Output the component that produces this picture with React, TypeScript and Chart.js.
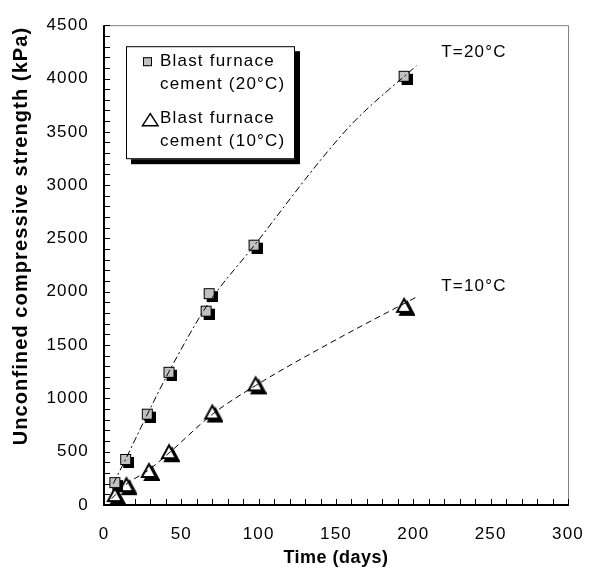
import { useEffect, useRef } from 'react';
import { Chart, registerables } from 'chart.js';

Chart.register(...registerables);

const FONT = '"Liberation Sans", Arial, Helvetica, sans-serif';

// ---- Data ----
const days20 = [7, 14, 28, 42, 66, 68, 97, 194];
const strength20 = [210, 427, 852, 1245, 1818, 1982, 2437, 4021];

const days10 = [7, 14.5, 29, 42, 70, 98, 194];
const strength10 = [93, 186, 319, 495, 867, 1131, 1868];

// trend curves
const trendDays20 = [6, 14, 28, 42, 67, 98, 142, 162, 202];
const trendStrength20 = [200, 430, 850, 1250, 1880, 2450, 3270, 3600, 4120];
const trendDays10 = [5, 14, 29, 43, 70, 98, 150, 202];
const trendStrength10 = [60, 190, 330, 500, 850, 1120, 1550, 1950];

const xTickValues = [0, 50, 100, 150, 200, 250, 300];
const yTickValues = [0, 500, 1000, 1500, 2000, 2500, 3000, 3500, 4000, 4500];

const legendLines20 = ['Blast furnace', 'cement (20°C)'];
const legendLines10 = ['Blast furnace', 'cement (10°C)'];
const curveLabels = ['T=20°C', 'T=10°C'];
const curveLabelX = [218, 218];
const curveLabelY = [4200, 2010];
const xTitle = 'Time (days)';
const yTitle = 'Unconfined compressive strength (kPa)';

const LS = '1.2px';

function makeSquareMarker() {
  const c = document.createElement('canvas');
  c.width = 17;
  c.height = 17;
  const g = c.getContext('2d')!;
  g.fillStyle = '#000';
  g.fillRect(6, 6, 11, 11);
  g.fillStyle = '#c0c0c0';
  g.fillRect(3, 3, 11, 11);
  g.strokeStyle = '#000';
  g.lineWidth = 1;
  g.strokeRect(3.5, 3.5, 10, 10);
  return c;
}

function makeTriangleMarker() {
  const c = document.createElement('canvas');
  c.width = 22;
  c.height = 22;
  const g = c.getContext('2d')!;
  const tri = (dx: number, dy: number) => {
    g.beginPath();
    g.moveTo(11 + dx, 4 + dy);
    g.lineTo(18 + dx, 17 + dy);
    g.lineTo(4 + dx, 17 + dy);
    g.closePath();
  };
  g.lineJoin = 'miter';
  tri(3, 3);
  g.fillStyle = '#000';
  g.fill();
  g.strokeStyle = '#000';
  g.lineWidth = 2;
  g.stroke();
  tri(0, 0);
  g.fillStyle = '#fff';
  g.fill();
  g.stroke();
  return c;
}

const customPlugin = {
  id: 'customDecor',
  beforeLayout(chart: any) {
    chart.ctx.letterSpacing = LS;
  },
  beforeDraw(chart: any) {
    const ctx = chart.ctx;
    ctx.letterSpacing = LS;
    ctx.save();
    ctx.fillStyle = '#fff';
    ctx.fillRect(0, 0, chart.width, chart.height);
    ctx.restore();
  },
  beforeDatasetsDraw(chart: any) {
    const ctx = chart.ctx;
    const { left, right, top, bottom } = chart.chartArea;
    const xs = chart.scales.x;
    const ys = chart.scales.y;
    ctx.save();
    ctx.strokeStyle = '#808080';
    ctx.lineWidth = 1;
    ctx.beginPath();
    ctx.moveTo(left, top + 0.5);
    ctx.lineTo(right + 0.5, top + 0.5);
    ctx.lineTo(right + 0.5, bottom);
    ctx.stroke();
    ctx.strokeStyle = '#000';
    ctx.lineWidth = 2;
    ctx.beginPath();
    ctx.moveTo(left, top);
    ctx.lineTo(left, bottom);
    ctx.lineTo(right + 1, bottom);
    ctx.stroke();
    ctx.lineWidth = 1;
    ctx.beginPath();
    for (let v = 0; v <= 4500; v += 100) {
      const y = Math.round(ys.getPixelForValue(v)) + 0.5;
      ctx.moveTo(left, y);
      ctx.lineTo(left + 6, y);
    }
    for (let v = 0; v <= 300; v += 10) {
      const x = Math.round(xs.getPixelForValue(v)) + 0.5;
      ctx.moveTo(x, bottom);
      ctx.lineTo(x, bottom - 6);
    }
    ctx.stroke();
    ctx.restore();
  },
  afterDraw(chart: any) {
    const ctx = chart.ctx;
    const { left, right, top } = chart.chartArea;
    const xs = chart.scales.x;
    const ys = chart.scales.y;
    ctx.save();
    ctx.fillStyle = '#000';
    ctx.font = `bold 18px ${FONT}`;
    ctx.letterSpacing = '0.5px';
    ctx.textAlign = 'center';
    ctx.textBaseline = 'alphabetic';
    ctx.fillText(xTitle, (left + right) / 2, 563);

    ctx.save();
    ctx.font = `bold 20px ${FONT}`;
    ctx.letterSpacing = '1.1px';
    ctx.translate(27, 236);
    ctx.rotate(-Math.PI / 2);
    ctx.fillText(yTitle, 0, 0);
    ctx.restore();

    ctx.font = `17px ${FONT}`;
    ctx.letterSpacing = LS;
    ctx.textAlign = 'left';
    for (let i = 0; i < curveLabels.length; i++) {
      ctx.fillText(curveLabels[i], xs.getPixelForValue(curveLabelX[i]), ys.getPixelForValue(curveLabelY[i]));
    }

    const bx = left + 22;
    const by = top + 21;
    const bw = 169;
    const bh = 113;
    ctx.fillStyle = '#000';
    ctx.fillRect(bx + 5, by + 5, bw, bh);
    ctx.fillStyle = '#fff';
    ctx.fillRect(bx, by, bw, bh);
    ctx.strokeStyle = '#000';
    ctx.lineWidth = 1;
    ctx.strokeRect(bx + 0.5, by + 0.5, bw - 1, bh - 1);

    ctx.fillStyle = '#c0c0c0';
    ctx.fillRect(bx + 17, by + 11, 9, 9);
    ctx.strokeRect(bx + 17.5, by + 11.5, 8, 8);
    ctx.beginPath();
    ctx.moveTo(bx + 24.3, by + 67.5);
    ctx.lineTo(bx + 32, by + 79.5);
    ctx.lineTo(bx + 16.5, by + 79.5);
    ctx.closePath();
    ctx.lineWidth = 1.5;
    ctx.stroke();

    ctx.fillStyle = '#000';
    ctx.font = `17px ${FONT}`;
    ctx.letterSpacing = LS;
    ctx.textAlign = 'left';
    const tx = bx + 34;
    ctx.fillText(legendLines20[0], tx, by + 20);
    ctx.fillText(legendLines20[1], tx, by + 43);
    ctx.fillText(legendLines10[0], tx, by + 77);
    ctx.fillText(legendLines10[1], tx, by + 100);
    ctx.restore();
  },
};

export default function App() {
  const ref = useRef<HTMLCanvasElement | null>(null);

  useEffect(() => {
    if (!ref.current) return;
    const sq = makeSquareMarker();
    const tri = makeTriangleMarker();

    const chart = new Chart(ref.current, {
      type: 'scatter',
      data: {
        datasets: [
          {
            label: 'trend 20',
            data: trendDays20.map((d, i) => ({ x: d, y: trendStrength20[i] })),
            showLine: true,
            borderColor: '#000',
            borderWidth: 1,
            borderDash: [7, 3, 2, 3],
            pointRadius: 0,
            cubicInterpolationMode: 'monotone',
          } as any,
          {
            label: 'trend 10',
            data: trendDays10.map((d, i) => ({ x: d, y: trendStrength10[i] })),
            showLine: true,
            borderColor: '#000',
            borderWidth: 1,
            borderDash: [6, 4],
            pointRadius: 0,
            cubicInterpolationMode: 'monotone',
          } as any,
          {
            label: 'Blast furnace cement (20°C)',
            data: days20.map((d, i) => ({ x: d, y: strength20[i] })),
            pointStyle: sq,
            pointRadius: 6,
            showLine: false,
          },
          {
            label: 'Blast furnace cement (10°C)',
            data: days10.map((d, i) => ({ x: d, y: strength10[i] })),
            pointStyle: tri,
            pointRadius: 6,
            showLine: false,
          },
        ],
      },
      options: {
        animation: false,
        responsive: false,
        devicePixelRatio: 1,
        layout: { padding: { left: 0, top: 21, right: 20, bottom: 0 } },
        plugins: { legend: { display: false }, tooltip: { enabled: false } },
        scales: {
          x: {
            type: 'linear',
            min: 0,
            max: 300,
            afterBuildTicks: (s: any) => {
              s.ticks = xTickValues.map((v) => ({ value: v }));
            },
            afterFit: (s: any) => {
              s.height = 72;
            },
            grid: { display: false, drawTicks: false },
            border: { display: false },
            ticks: {
              padding: 19,
              color: '#000',
              font: { family: FONT, size: 17 },
              maxRotation: 0,
              callback: (v: any) => String(v),
            },
          },
          y: {
            type: 'linear',
            min: 0,
            max: 4500,
            afterBuildTicks: (s: any) => {
              s.ticks = yTickValues.map((v) => ({ value: v }));
            },
            afterFit: (s: any) => {
              s.width = 104;
            },
            grid: { display: false, drawTicks: false },
            border: { display: false },
            ticks: {
              padding: 15,
              color: '#000',
              font: { family: FONT, size: 17 },
              callback: (v: any) => String(v),
            },
          },
        },
      },
      plugins: [customPlugin],
    });
    return () => chart.destroy();
  }, []);

  return (
    <div style={{ position: 'absolute', left: 0, top: 0, width: 603, height: 577 }}>
      <canvas ref={ref} width={603} height={577} style={{ display: 'block', width: 603, height: 577 }} />
    </div>
  );
}
